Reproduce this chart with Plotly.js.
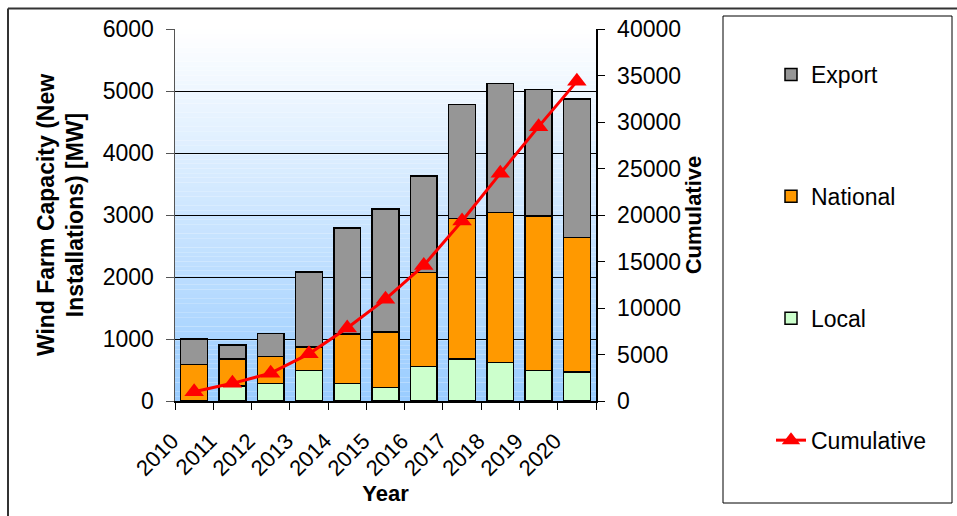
<!DOCTYPE html>
<html>
<head>
<meta charset="utf-8">
<script src="https://cdn.plot.ly/plotly-3.0.1.min.js"></script>
<style>html,body{margin:0;padding:0;background:#fff;}#chart{width:957px;height:516px;}</style>
</head>
<body>
<div id="chart"></div>
<script>
// ---- data ----
var years = ['2010','2011','2012','2013','2014','2015','2016','2017','2018','2019','2020'];
var local    = [0, 240, 280, 490, 280, 215, 555, 680, 620, 490, 465];
var national = [590, 440, 435, 385, 800, 900, 1515, 2265, 2420, 2495, 2175];
var exportMW = [410, 220, 375, 1205, 1710, 1985, 1560, 1835, 2085, 2040, 2230];
var cumulative = [1000, 1900, 2990, 5070, 7850, 10950, 14580, 19360, 24480, 29500, 34370];
var leftTicks = [0, 1000, 2000, 3000, 4000, 5000, 6000];
var rightTicks = [0, 5000, 10000, 15000, 20000, 25000, 30000, 35000, 40000];

// ---- layout helpers (pixel -> paper) ----
var L = 175, R = 596, T = 29, B = 401;
function xp(px){ return (px - L) / (R - L); }
function yp(py){ return (B - py) / (B - T); }

var FONT = 'Arial, "Liberation Sans", sans-serif';
var barLine = {color: '#000000', width: 1.5};

var traces = [
  {type:'bar', name:'Local', x: years, y: local, marker:{color:'#CCFFCC', line: barLine},
   legendgroup:'c', legendrank:3},
  {type:'bar', name:'National', x: years, y: national, marker:{color:'#FF9900', line: barLine},
   legendgroup:'b', legendrank:2},
  {type:'bar', name:'Export', x: years, y: exportMW, marker:{color:'#969696', line: barLine},
   legendgroup:'a', legendrank:1},
  {type:'scatter', mode:'lines+markers', name:'Cumulative', x: years, y: cumulative, yaxis:'y2',
   line:{color:'#FF0000', width:3}, marker:{symbol:'triangle-up', size:17, color:'#FF0000'},
   legendgroup:'d', legendrank:4}
];

// background gradient (white -> light blue) drawn as thin bands
var shapes = [];
var N = 80;
for (var i = 0; i < N; i++) {
  var t = (i + 0.5) / N; // 0 at bottom, 1 at top
  var r = Math.round(153 + (255 - 153) * t);
  var g = Math.round(204 + (255 - 204) * t);
  shapes.push({type:'rect', xref:'paper', yref:'paper', x0:0, x1:1, y0:i/N, y1:(i+1)/N,
    fillcolor:'rgb(' + r + ',' + g + ',255)', line:{width:0}, layer:'below'});
}
// outer chart frame (top and left edges visible)
shapes.push({type:'line', xref:'paper', yref:'paper', x0:xp(8), x1:xp(960), y0:yp(8.5), y1:yp(8.5),
  line:{color:'#333333', width:2}});
shapes.push({type:'line', xref:'paper', yref:'paper', x0:xp(8), x1:xp(8), y0:yp(8.5), y1:yp(520),
  line:{color:'#333333', width:2}});
// legend box
shapes.push({type:'rect', xref:'paper', yref:'paper', x0:xp(723), x1:xp(952), y0:yp(16), y1:yp(503),
  line:{color:'#000000', width:1}, fillcolor:'rgba(0,0,0,0)'});

var layout = {
  width: 957, height: 516,
  margin: {l: L, r: 957 - R, t: T, b: 516 - B, pad: 0},
  paper_bgcolor: '#ffffff',
  plot_bgcolor: 'rgba(0,0,0,0)',
  font: {family: FONT, size: 23, color: '#000000'},
  barmode: 'stack',
  bargap: 0.3,
  showlegend: true,
  legend: {
    x: xp(771), y: yp(53), xanchor:'left', yanchor:'top',
    bgcolor:'rgba(0,0,0,0)', borderwidth:0, maxheight: 1000,
    font:{family: FONT, size: 23, color:'#000000'},
    traceorder:'grouped', tracegroupgap: 89, itemwidth: 30
  },
  xaxis: {
    type:'category', categoryorder:'array', categoryarray: years, range:[-0.5, 10.5],
    tickangle: -45, ticks:'outside', ticklen:7, tickcolor:'#000000', tickwidth:1,
    tickson:'boundaries', showline:true, linecolor:'#000000', linewidth:1.5,
    showgrid:false, zeroline:false,
    tickfont:{family: FONT, size: 22}, ticklabelstandoff: 17, ticklabelshift: -22,
    title:{text:'<b>Year</b>', font:{family: FONT, size: 22}, standoff: 6},
    fixedrange:true
  },
  yaxis: {
    range:[0, 6000], tickvals: leftTicks, ticktext: leftTicks.map(String),
    ticks:'outside', ticklen:8, tickcolor:'#555555', tickwidth:1,
    showline:true, linecolor:'#555555', linewidth:1.5,
    showgrid:true, gridcolor:'#000000', gridwidth:1, zeroline:false,
    tickfont:{family: FONT, size: 23}, ticklabelstandoff: 7,
    title:{text:'<b>Wind Farm Capacity (New<br>Installations) [MW]</b>', font:{family: FONT, size: 23}, standoff: 12},
    fixedrange:true
  },
  yaxis2: {
    overlaying:'y', side:'right', range:[0, 40000], tickvals: rightTicks, ticktext: rightTicks.map(String),
    ticks:'outside', ticklen:7, tickcolor:'#000000', tickwidth:1,
    showline:true, linecolor:'#000000', linewidth:1.5,
    showgrid:false, zeroline:false,
    tickfont:{family: FONT, size: 23}, ticklabelstandoff: 8,
    title:{text:'<b>Cumulative</b>', font:{family: FONT, size: 22}, standoff: 4},
    fixedrange:true
  },
  shapes: shapes
};

Plotly.newPlot('chart', traces, layout, {displayModeBar:false, staticPlot:true});
</script>
</body>
</html>
